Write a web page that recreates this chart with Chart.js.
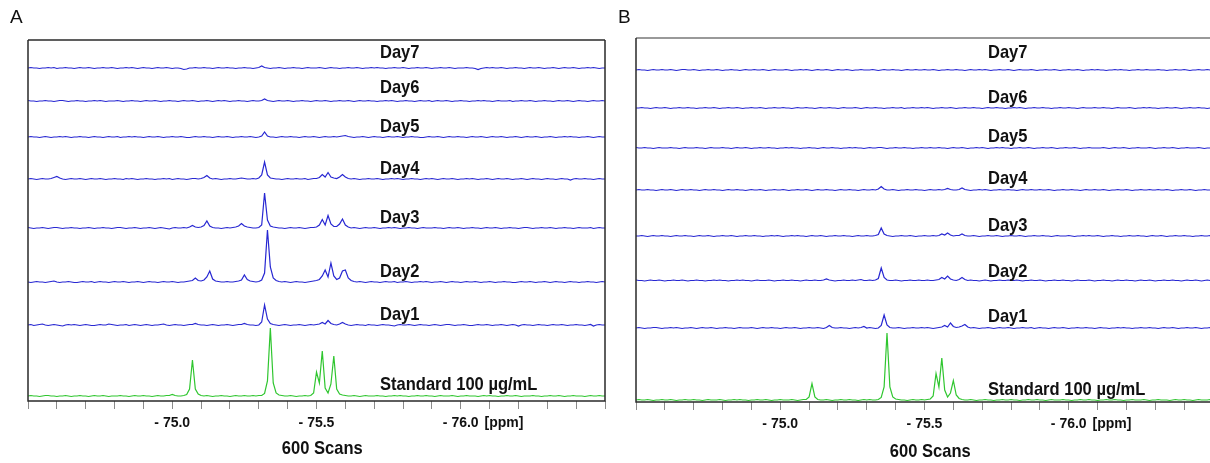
<!DOCTYPE html>
<html>
<head>
<meta charset="utf-8">
<script src="https://cdn.jsdelivr.net/npm/chart.js@4.4.0/dist/chart.umd.min.js"></script>
<style>
  html, body { margin: 0; padding: 0; background: #fff; overflow: hidden; width: 1210px; height: 463px; }
  .panel { position: absolute; top: 0; height: 463px; width: 615px; }
  #panelA { left: 0; }
  #panelB { left: 608px; }
</style>
</head>
<body>
<div class="panel" id="panelA"><canvas id="chartA" width="615" height="463"></canvas></div>
<div class="panel" id="panelB"><canvas id="chartB" width="615" height="463"></canvas></div>
<script>
// spectra sampled every 0.01 ppm, starting at -74.50 ppm (201 points each)
const ppmStart = -74.5;
const ppmStep = 0.01;

const traceNames = ["Standard 100 µg/mL", "Day1", "Day2", "Day3", "Day4", "Day5", "Day6", "Day7"];

// intensities in half-pixel units, baseline = 0
const stdA = [
  0, 1, 0, 0,-1,   0, 1, 1, 0, 0,  -1, 0, 0, 1, 0,  -1, 0, 0, 1, 0,
  0,-1, 0, 1, 0,   0, 1, 0,-1, 0,   0, 0, 1, 0, 0,  -1, 0, 1, 0, 0,
  1, 0, 0,-1, 0,   1, 0, 0, 1, 1,   3, 1, 0, 0, 1,   3,14,72,14, 4,
  1, 0, 1, 0,-1,   0, 0, 1, 0, 0,  -1, 0, 1, 0, 0,   1, 0, 0, 1, 0,
  1, 1, 5,30,136, 26, 6, 2, 1, 0,   0, 1, 0,-1, 0,   0, 1, 0, 1, 6,
  48,26,90,16, 6, 24,80,14, 4, 2,   1, 0, 0, 1, 0,  -1, 0, 1, 0, 0,
  0, 1, 0, 0,-1,   0, 0, 1, 0, 1,   0, 0,-1, 0, 0,   1, 0, 0, 1, 0,
  0,-1, 0, 1, 0,   0, 0, 1, 0,-1,   0, 0, 1, 0, 0,   0,-1, 0, 1, 0,
  1, 0, 0,-1, 0,   0, 1, 0, 0, 1,   0,-1, 0, 0, 0,   1, 0, 0,-1, 0,
  0, 1, 0, 0, 1,   0,-1, 0, 0, 1,   0, 0, 0,-1, 0,   1, 0, 0, 1, 0,
  0
];
const day1A = [
  0, 1,-1, 0, 1,   2, 0,-1, 0, 1,   0,-1,-2, 0, 1,   0, 1, 0,-1, 0,
  1, 0,-1,-1, 0,   1, 0, 0, 2, 1,   0,-1, 0, 0, 1,  -1, 0, 1, 0,-1,
  0, 1, 0,-1, 0,   0, 1, 2, 0,-1,   0, 1, 0, 0,-1,   0, 1, 1, 3, 1,
  0, 0,-1, 0, 1,   0,-1, 0, 0, 1,   0,-1, 0, 1, 1,   3, 1, 0, 0,-1,
  0, 6,40,12, 3,   1, 0,-1, 0, 1,   0,-1, 0, 0, 1,   0,-1, 0, 1, 0,
  1, 2, 5, 2, 9,   3, 1, 0, 2, 5,   2, 0,-1, 0, 1,   0, 0,-1, 1, 0,
  0,-1, 0, 1, 0,   0,-1,-2, 0, 1,   0, 0, 1, 0,-1,   0, 1, 0, 0,-1,
  0, 1, 0,-1, 0,   1, 1, 0,-1, 0,   0, 1, 0,-1,-1,   0, 1, 0, 0, 1,
  0,-1, 0, 0, 1,   0,-1, 0, 1, 0,  -2, 0, 1, 0, 0,  -1, 0, 1, 0, 0,
  -1, 0, 1, 0, 0,  1, 0,-1, 0, 0,   1, 0, 0,-1, 0,   1,-2, 0, 1, 0,
  0
];
const day2A = [
  0,-1, 0, 1, 0,   0,-1, 0, 1, 2,   0,-1, 0, 0, 1,   0,-1,-1, 0, 1,
  0, 0, 1,-1, 0,   1, 0, 0,-1, 0,   1, 0, 0, 1, 0,  -1, 0, 0, 1, 0,
  -1, 0, 1, 0, 0, -1, 0, 1, 0, 0,   1, 0,-1, 0, 0,   1, 2, 3, 8, 3,
  2, 4,10,22, 6,   2, 1, 0, 0, 1,   0, 0, 1, 2, 4,  14, 5, 2, 1, 0,
  1, 4,18,104,30,  8, 3, 1, 0, 1,   0,-1, 0, 1, 0,   0,-1, 0, 1, 2,
  3, 5,12,24,10,  38,12, 5, 8,22,  24, 8, 3, 1, 0,   1, 0,-1, 0, 1,
  0, 0,-1, 0, 1,   0, 0, 1,-1, 0,   0, 1, 0,-1, 0,   0, 1, 0, 1, 0,
  -1, 0, 0, 1, 0, -1, 0, 1, 0, 0,  -1, 0, 1, 0, 0,   1, 0,-1, 0, 0,
  1, 0,-1, 0, 0,   1, 0, 0,-1,-1,   0, 1, 0, 0, 1,   0,-1, 0, 0, 1,
  0,-1, 0, 1, 0,   0,-1, 0, 1, 0,   0,-1, 0, 0, 1,   0, 0,-1, 0, 1,
  0
];
const day3A = [
  1, 0,-1, 0, 0,   1, 0,-1, 0, 1,   1, 0,-1, 0, 0,   1, 0, 0,-1, 0,
  0, 1, 0,-1, 0,   0, 1, 0, 0,-1,   0, 1, 1, 0,-1,   0, 0, 1, 0,-1,
  0, 0, 1, 0,-1,   0, 1, 0,-1,-2,   0, 1, 0, 0, 1,   0, 2, 5, 2, 1,
  2, 5,14, 4, 1,   0, 0,-1, 0, 1,   0, 1, 2, 4, 9,   4, 2, 1, 0, 0,
  1, 6,70,16, 4,   2, 1, 0, 0,-1,   0, 1, 0, 0, 1,   0,-1, 0, 1, 1,
  2, 6,17, 6,25,   8, 3, 3, 8,18,   6, 2, 0, 1, 0,  -1, 0, 1, 0, 0,
  1, 0,-1, 0, 0,   1, 0, 1, 0,-1,   0, 0, 1, 0, 0,  -1, 0, 1, 0, 0,
  0, 1, 0, 0,-1,   0, 1, 0, 0, 1,   0,-1, 0, 0, 1,   0, 0,-1, 0, 1,
  0, 0, 1, 0,-1,   0, 0, 1, 0, 0,  -1, 0, 1, 1, 0,  -1, 0, 0, 1, 0,
  0, 1, 0,-1, 0,   0, 1, 0, 0,-1,   0, 1, 0, 0, 0,   1,-1, 0, 1, 0,
  0
];
const day4A = [
  0, 1, 0,-1, 0,   1, 0, 0, 1, 3,   5, 2, 0,-1, 0,   1, 0, 0, 1, 0,
  -1, 0, 1, 0, 0,  1, 0,-1, 0, 0,   1, 0, 0,-1, 1,   0, 1, 0,-1, 0,
  0, 1, 0, 0,-1,   0, 0, 1, 0, 1,  -1, 0, 1, 0, 0,  -1, 0, 1, 1, 0,
  1, 3, 7, 2, 0,   1, 0,-1, 0, 0,   1, 0, 0, 1, 2,   1, 0, 0, 1, 0,
  2, 8,34, 8, 2,   1, 0, 0,-1, 0,   1, 0, 0, 1, 0,   0, 1,-1, 0, 1,
  1, 3, 9, 4,13,   4, 2, 1, 4, 9,   4, 1, 0, 1, 0,  -1, 0, 0, 1, 0,
  0, 1, 0,-1, 0,   0, 1, 0, 1, 0,  -1, 0, 0, 1, 0,   0,-1, 0, 1, 0,
  1, 0,-1, 0, 1,   0, 0, 1, 0,-1,   0, 0, 1, 0, 1,   0,-1, 0, 0, 1,
  0,-1, 0, 1, 0,   0, 1, 0,-1, 0,   0, 1, 0,-1, 0,   1, 0, 0,-1, 0,
  1, 0, 0,-1, 0,   1, 0, 0,-2, 0,   1, 0, 0, 1, 0,   0,-1, 0, 1, 0,
  0
];
const day5A = [
  0, 1, 0, 0,-1,   0, 1, 0,-1, 0,   0, 1, 0, 1, 0,  -1, 0, 0, 1, 0,
  0,-1, 0, 1, 0,   0,-1, 0, 1, 0,   0, 1,-1, 0, 0,   1, 0, 1, 0, 0,
  -1, 0, 1, 0, 0,  1, 0,-1, 0, 0,   1, 0, 0, 1, 0,  -1,-1, 0, 1, 0,
  0, 1, 0, 0,-1,   0, 1, 0, 0, 1,   0,-1, 0, 0, 1,   0, 0, 1, 0,-1,
  0, 2,10, 2, 0,   0,-1, 0, 1, 0,   0, 1, 0, 0,-1,   0, 1, 0, 0, 1,
  0,-1, 0, 1, 0,   0, 1, 0, 1, 2,   3, 1, 0,-1, 0,   0, 1, 0,-1, 0,
  1, 0, 0,-1, 0,   1, 0, 0, 1, 0,  -1, 0, 0, 1, 0,   0,-1,-1, 0, 1,
  0, 0, 1, 0,-1,   0, 1, 0, 0, 1,   0, 0,-1, 0, 1,   0, 0, 1, 0,-1,
  0, 1, 0, 0, 1,   0,-1, 0, 0, 1,   0,-1, 0, 1, 0,   0, 1, 0,-1, 0,
  0, 1, 0,-1, 0,   0, 1, 0, 1, 0,   0,-1, 0, 0, 1,   0,-1, 0, 1, 0,
  0
];
const day6A = [
  1, 0, 0,-1, 0,   0, 1, 0, 0,-1,   0, 1, 1, 0,-1,   0, 0, 1, 0, 0,
  -1, 0, 0, 1, 0,  1, 0,-1, 0, 0,   0, 1, 0,-1, 0,   0, 1, 0, 0,-1,
  0, 1, 0, 0, 1,   0,-1, 0, 0, 1,   0, 0,-1, 0, 1,   0, 0, 1, 0,-1,
  0, 0, 1, 0,-1,   0, 1, 0, 1, 0,  -1, 0, 0, 1, 0,   0,-1, 0, 1, 0,
  0, 1, 4, 1, 0,  -1, 0, 1, 0, 0,   1, 0,-1, 0, 0,   1, 0, 0,-1, 0,
  1, 0, 0, 1, 0,  -1, 0, 0, 1, 0,   0, 1, 0,-1, 0,   1, 0, 0, 1, 0,
  0,-1, 0, 0, 1,   0, 1, 0,-1, 0,   0, 1, 0, 0,-1,   0, 1, 0, 0, 1,
  -1, 0, 1, 0, 0,  1, 0,-1, 0, 0,   1, 0, 0,-1, 0,   0, 1, 0, 1, 0,
  0,-1, 0, 1, 0,   0, 0, 1,-1, 0,   0, 1, 0, 0, 1,   0,-1, 0, 0, 1,
  0, 0,-1, 0, 1,   0, 0, 1, 0,-1,   0, 1, 0, 0,-1,   0, 1, 0, 0, 1,
  0
];
const day7A = [
  0, 1, 0, 0,-1,   0, 0, 1, 0, 1,  -1, 0, 0, 1, 0,   0,-1, 0, 1, 0,
  0, 1, 0,-1, 0,   0, 1, 0, 0, 1,   0,-1, 0, 0, 1,   0, 1, 0,-1, 0,
  1, 0, 0,-1, 0,   1, 0, 0, 1, 0,  -1, 0, 0,-1,-3,  -2, 0, 0, 1, 0,
  0, 1, 0, 0,-1,   0, 1, 0, 0, 1,   0, 0,-1, 0, 0,   1, 0, 0,-1, 0,
  1, 4, 1, 0,-1,   0, 0, 1, 0,-1,   0, 0, 1, 0, 0,  -1, 0, 1, 0, 0,
  0, 1, 0,-1, 0,   1, 0, 0,-1, 0,   0, 1, 0, 0, 1,   0,-1, 0, 0, 1,
  0, 1, 0, 0,-1,   0, 0, 1, 0, 0,   1, 0,-1, 0, 0,   1, 0, 0, 1, 0,
  -1, 0, 0, 1, 0,  0, 1, 0,-1, 0,   0, 0, 1, 0, 0,  -1,-3,-1, 0, 1,
  0, 1, 0, 0, 1,   0,-1, 0, 0, 1,   0, 0,-1, 0, 1,   0, 0, 1, 0,-1,
  0, 0, 1, 0,-1,   0, 1, 0, 0, 1,   0,-1, 0, 0, 1,   0, 1, 0,-1, 0,
  0
];

const stdB = [
  0, 1, 0, 0, 1,   0,-1, 0, 0, 1,   0, 0, 1, 0,-1,   0, 0, 1, 0, 0,
  1, 0, 0,-1, 0,   1, 0, 0, 0, 1,   0,-1, 0, 0, 1,   0, 1, 0, 0,-1,
  0, 0, 1, 0, 0,   1, 0,-1, 0, 0,   1, 0, 0, 0, 1,   0,-1, 0, 1, 1,
  6,33, 6, 1, 0,   0, 1, 0,-1, 0,   0, 1, 0, 0, 1,   0, 0,-1, 0, 1,
  0, 1, 0, 0, 1,   5,26,134,26, 6,  2, 1, 0, 0,-1,   0, 1, 0, 0, 1,
  0, 1, 2, 8,53,  26,84,20, 6,14,  39,10, 3, 1, 0,   0, 1, 0,-1, 0,
  0, 1, 0, 0,-1,   0, 0, 1, 0, 0,   1, 0, 0,-1, 0,   0, 1, 0, 0, 1,
  0, 0,-1, 0, 1,   0, 0, 0, 1, 0,   0,-1, 0, 0, 1,   0, 0, 1, 0, 0,
  -1, 0, 0, 1, 0,  0, 1, 0, 0,-1,   0, 0, 1, 0, 0,   0, 1, 0,-1, 0,
  0, 1, 0, 0, 0,  -1, 0, 1, 0, 0,   1, 0, 0,-1, 0,   1, 0, 0, 0, 1,
  0
];
const day1B = [
  0, 1, 0,-1, 0,   0, 1, 1, 0,-1,   0, 0, 1, 0, 1,   0,-1, 0, 0, 1,
  0,-1, 0, 1, 0,   0, 1, 0,-1, 0,   0, 1, 0, 0,-1,   0, 1, 0, 0, 0,
  1, 0,-1, 0, 1,   0, 0, 1, 0, 0,  -1, 0, 1, 0, 0,   1, 0,-1, 0, 0,
  1, 0, 0, 1, 0,  -1, 1, 5, 1, 0,   0, 1, 0, 0,-1,   0, 1, 0, 1, 3,
  0, 1, 0,-1, 0,   5,26, 6, 1, 0,   0, 1, 0,-1, 0,   0, 1, 0, 0, 1,
  0, 1, 0,-1, 0,   1, 2, 5, 2,10,   3, 1, 2, 4, 7,   2, 0, 1, 0,-1,
  0, 0, 1, 0,-1,   0, 1, 0, 0, 1,   0,-1, 0, 0, 1,   0, 0, 1,-1, 0,
  1, 0, 0,-1, 0,   1, 0, 0, 1, 0,  -1, 0, 0, 1, 0,   0, 1, 0, 0,-1,
  0, 1, 0, 0,-1,   0, 0, 1, 0, 1,   0, 0,-1, 0, 0,   1, 0, 0, 1, 0,
  0,-1, 0, 1, 0,   0, 1, 0,-1, 0,   0, 1, 0, 0, 1,   0,-1, 0, 0, 1,
  0
];
const day2B = [
  1, 0, 0,-1, 0,   1, 0, 0, 1, 0,  -1, 0, 0, 1, 0,   0, 1, 0,-1, 0,
  0, 1, 0, 0,-1,   0, 0, 1, 0, 1,   0, 0,-1, 0, 0,   1, 0, 1, 0, 0,
  -1, 0, 1, 0, 0,  0, 1, 0,-1, 0,   0, 1, 0, 0, 1,   0, 0,-1, 0, 1,
  0, 0, 1, 0, 0,   1, 3, 1, 0,-1,   0, 0, 1, 0, 0,   1, 0, 1, 2, 0,
  0, 1, 0, 1, 4,  25, 6, 1, 0, 0,   1, 0,-1, 0, 0,   1, 0, 0, 1, 0,
  0, 1, 0, 0, 1,   2, 6, 3, 9, 3,   1, 0, 2, 6, 2,   0, 1, 0, 0,-1,
  0, 1, 0,-1, 0,   0, 1, 0, 0, 1,   0, 0, 1, 0,-1,   0, 0, 1, 0, 0,
  1, 0,-1, 0, 0,   1, 0, 0, 1, 0,   0,-1, 0, 1, 0,   0, 0, 1, 0,-1,
  0, 0, 1, 0, 0,  -1, 0, 1, 0, 0,   1, 0, 0,-1, 0,   1, 0, 0, 1, 0,
  -1, 0, 0, 1, 0,  0, 1, 0, 0,-1,   0, 1, 0, 0, 1,   0,-1, 0, 1, 0,
  0
];
const day3B = [
  0, 0, 1, 0,-1,   0, 1, 0, 0, 1,   0, 0,-1, 0, 1,   0, 0, 1, 0, 0,
  -1, 0, 1, 0, 0,  1, 0,-1, 0, 0,   1, 0, 0, 1, 0,  -1, 0, 0, 1, 0,
  0, 1, 0, 0,-1,   0, 0, 1, 0, 1,   0,-1, 0, 0, 1,   0, 1, 0, 0,-1,
  0, 1, 0, 0, 1,   0,-1, 0, 0, 1,   0, 0, 1, 0, 0,  -1, 0, 1, 0, 0,
  1, 0, 0, 1, 3,  16, 4, 1, 0,-1,   0, 0, 1, 0, 0,   1, 0,-1, 0, 0,
  1, 0, 0, 1, 0,   1, 4, 2, 6, 2,   0, 1, 1, 4, 1,   0, 0, 1, 0,-1,
  0, 0, 1, 0, 0,   1, 0,-1, 0, 0,   1, 0, 0, 1, 0,  -1, 0, 0, 1, 0,
  0, 1, 0, 0,-1,   0, 1, 0, 0, 0,   1, 0,-1, 0, 0,   1, 0, 1, 0, 0,
  1, 0,-1, 0, 0,   1, 0, 0,-1, 0,   0, 1, 0, 0, 1,   0, 0,-1, 0, 1,
  0, 0, 1, 0,-1,   0, 0, 1, 0, 0,   1, 0, 0,-1, 0,   0, 1, 0, 0, 1,
  0
];
const day4B = [
  0, 1, 0, 0, 1,   0, 0,-1, 0, 1,   0, 0, 1, 0,-1,   0, 1, 0, 0, 1,
  0, 0,-1, 0, 1,   0, 0, 1, 0, 0,  -1, 0, 1, 0, 0,   1, 0, 0,-1, 0,
  1, 0, 0, 1, 0,  -1, 0, 0, 1, 0,   0, 1, 0,-1, 0,   0, 1, 0, 0, 1,
  0,-1, 0, 1, 0,   0, 1, 0, 0,-1,   0, 1, 0, 0, 1,   0, 0,-1, 0, 1,
  0, 0, 1, 0, 2,   7, 2, 0, 0, 1,   0,-1, 0, 0, 1,   0, 0, 1, 0, 0,
  -1, 0, 1, 0, 0,  1, 0, 1, 3, 1,   0, 0, 1, 4, 1,   0,-1, 0, 0, 1,
  0, 1, 0,-1, 0,   0, 1, 0, 0, 1,   0, 0,-1, 0, 1,   0, 0, 1, 0, 0,
  1, 0, 0, 1, 0,  -1, 0, 0, 1, 0,   0, 1, 0, 0,-1,   0, 1, 0, 0, 1,
  0, 0, 1, 0,-1,   0, 0, 1, 0, 0,   1, 0,-1, 0, 0,   1, 0, 0, 1, 0,
  0, 1, 0, 0, 1,   0,-1, 0, 0, 1,   0, 0, 1, 0,-1,   0, 0, 1, 0, 0,
  0
];
const day5B = [
  1, 0, 0, 1, 0,   0,-1, 0, 1, 0,   0, 0, 1, 0, 0,  -1, 0, 1, 0, 0,
  0, 1, 0, 0,-1,   0, 1, 0, 0, 0,   1, 0, 0,-1, 0,   1, 0, 0, 1, 0,
  -1, 0, 0, 1, 0,  0, 1, 0, 0,-1,   0, 0, 1, 0, 1,   0, 0,-1, 0, 0,
  1, 0, 0,-1, 0,   1, 0, 0, 1, 0,   0,-1, 0, 0, 1,   0, 1, 0, 0,-1,
  0, 1, 0, 0, 1,   1, 0,-1, 0, 0,   1, 0, 0, 1, 0,   0,-1, 0, 0, 1,
  0, 0, 1, 0, 0,   1, 0, 0,-1, 0,   1, 0, 0, 1, 0,  -1, 0, 0, 1, 0,
  1, 0,-1, 0, 0,   1, 0, 1, 0, 0,  -1, 0, 0, 1, 0,   0, 1, 0,-1, 0,
  0, 1, 0, 0, 1,   0,-1, 0, 0, 1,   0, 0, 1, 0,-1,   0, 0, 1, 0, 0,
  0, 0, 1, 0,-1,   0, 1, 0, 0, 1,   0,-1, 0, 0, 1,   0, 0, 0, 1, 0,
  -1, 0, 0, 1, 0,  0, 1, 0,-1, 0,   0, 1, 0, 0, 0,   1, 0,-1, 0, 0,
  0
];
const day6B = [
  0, 0, 1, 0, 0,  -1, 0, 1, 0, 0,   1, 0,-1, 0, 0,   1, 0, 0, 1, 0,
  0,-1, 0, 0, 1,   0, 0, 1, 0,-1,   0, 0, 1, 0, 0,   1, 0,-1, 0, 0,
  1, 0, 0, 1, 0,  -1, 0, 0, 1, 0,   0, 1, 0, 0,-1,   0, 1, 0, 0, 1,
  0, 0,-1, 0, 1,   0, 0, 1, 0, 0,  -1, 0, 1, 0, 0,   0, 1, 0,-1, 0,
  1, 0, 0, 1, 0,   0,-1, 0, 0, 1,   0, 0, 1,-1, 0,   0, 1, 0, 0, 1,
  0, 1, 0,-1, 0,   0, 1, 0, 0, 1,   0,-1, 0, 0, 1,   0, 0, 1, 0, 0,
  -1, 0, 1, 0, 0,  1, 0, 0,-1, 0,   0, 1, 0, 1, 0,  -1, 0, 0, 1, 0,
  0, 1, 0, 0,-1,   0, 0, 1, 0, 0,   1, 0, 0,-1, 0,   1, 0, 0, 0, 1,
  0, 0, 1, 0, 0,  -1, 0, 1, 0, 0,   0, 1, 0,-1, 0,   0, 1, 0, 1, 0,
  0,-1, 0, 0, 1,   0, 0, 1, 0,-1,   0, 0, 1, 0, 0,   1, 0, 0,-1, 0,
  0
];
const day7B = [
  0, 1, 0, 0,-1,   0, 1, 0, 0, 1,   0, 0, 1, 0,-1,   0, 1, 1, 0, 0,
  1, 0,-1, 0, 0,   1, 0, 0, 1, 0,  -1, 0, 0, 1, 0,   0,-1, 0, 1, 0,
  0, 1, 0, 0, 1,   0,-1, 0, 1, 0,   0, 0, 1, 0,-1,   0, 0, 1, 0, 1,
  0,-1, 0, 1, 0,   0, 1, 0,-1, 0,   1, 0, 0, 1, 0,  -1, 0, 0, 1, 0,
  0, 0, 1, 0,-1,   0, 1, 0, 0, 1,   0, 0,-1, 0, 1,   0, 0, 1, 0, 0,
  1, 0, 0, 1, 0,  -1, 0, 0, 1, 0,   0, 1, 0, 0,-1,   0, 1, 0, 0, 1,
  0, 1, 0,-1, 0,   0, 1, 0, 0, 1,   0,-1, 0, 1, 0,   0, 0, 1, 0,-1,
  0, 0, 1, 0, 0,   1, 0,-1, 0, 0,   1, 0, 0, 1, 0,  -1, 0, 0, 1, 0,
  1, 0, 0,-1, 0,   0, 1, 0, 1, 0,   0,-1, 0, 0, 1,   0, 0, 1, 0, 0,
  0, 1, 0, 0,-1,   0, 0, 1, 0, 0,   1, 0,-1, 0, 0,   1, 0, 0, 1, 0,
  0
];

// vertical stacking: baseline of each trace (same units, bottom of the frame = 0)
const offsetsA = [10, 152, 238, 346, 444, 528, 600, 666];
const offsetsB = [4, 148, 243, 332, 424, 508, 588, 664];

const seriesA = [stdA, day1A, day2A, day3A, day4A, day5A, day6A, day7A];
const seriesB = [stdB, day1B, day2B, day3B, day4B, day5B, day6B, day7B];

// how far (px) each trace name sits above its baseline
const liftA = [11, 10, 10, 10, 10, 10, 13, 15];
const liftB = [10, 11, 9, 10, 11, 11, 10, 17];

const BLUE = "#2727d2";
const GREEN = "#2fc62f";
const FONT = "'Liberation Sans', Arial, sans-serif";

function toPoints(values, offset) {
    return values.map((v, i) => ({ x: +(ppmStart - i * ppmStep).toFixed(2), y: offset + v }));
}

// narrow bold caption text
function narrowText(ctx, text, x, y, align) {
    ctx.save();
    ctx.translate(x, y);
    ctx.scale(0.87, 1);
    ctx.textAlign = align;
    ctx.fillText(text, 0, 0);
    ctx.restore();
}

// frame, trace names, unit and scan count
const panelText = {
    id: "panelText",
    afterDraw(chart, args, opts) {
        const { ctx, chartArea: a, scales: { x, y } } = chart;
        ctx.save();

        ctx.lineWidth = 1.5;
        ctx.strokeStyle = opts.topColor;
        ctx.beginPath();
        ctx.moveTo(a.left, a.top);
        ctx.lineTo(a.right, a.top);
        ctx.stroke();
        ctx.strokeStyle = "#2a2a2a";
        ctx.beginPath();
        ctx.moveTo(a.left, a.top);
        ctx.lineTo(a.left, a.bottom);
        ctx.lineTo(a.right, a.bottom);
        ctx.lineTo(a.right, a.top);
        ctx.stroke();

        ctx.fillStyle = "#111";
        ctx.font = "bold 19px " + FONT;
        ctx.textBaseline = "middle";
        const lx = x.getPixelForValue(-75.72);
        traceNames.forEach((name, k) => {
            narrowText(ctx, name, lx, y.getPixelForValue(opts.offsets[k]) - opts.lift[k], "left");
        });
        narrowText(ctx, "600 Scans", x.getPixelForValue(-75.52), opts.scansY, "center");

        ctx.textAlign = "center";
        ctx.font = "bold 14px " + FONT;
        ctx.fillText("[ppm]", x.getPixelForValue(-76.15), a.bottom + 22);

        ctx.textAlign = "left";
        ctx.font = "19px " + FONT;
        ctx.fillText(opts.letter, 10, 18);
        ctx.restore();
    }
};

function makePanel(canvasId, letter, series, offsets, lift, top, bottom, scansY, topColor) {
    const yMax = (bottom - top) * 2;
    new Chart(document.getElementById(canvasId), {
        type: "line",
        data: {
            datasets: series.map((vals, k) => ({
                data: toPoints(vals, offsets[k]),
                borderColor: k === 0 ? GREEN : BLUE,
                borderWidth: 1.2,
                pointRadius: 0,
                tension: 0
            }))
        },
        options: {
            responsive: false,
            animation: false,
            devicePixelRatio: 1,
            layout: { padding: { left: 28, top: top, right: 10, bottom: 0 } },
            plugins: {
                legend: { display: false },
                tooltip: { enabled: false },
                panelText: { letter, offsets, lift, scansY, topColor }
            },
            scales: {
                x: {
                    type: "linear",
                    reverse: true,
                    min: -76.5,
                    max: -74.5,
                    afterFit: s => { s.height = 463 - bottom; },
                    border: { display: false },
                    grid: { drawOnChartArea: false, drawTicks: true, tickLength: 8, color: "#8a8a8a", lineWidth: 1 },
                    ticks: {
                        stepSize: 0.1,
                        autoSkip: false,
                        maxRotation: 0,
                        padding: 6,
                        color: "#111",
                        font: { family: FONT, size: 14, weight: "bold" },
                        callback: v => {
                            const t = Math.round(v * 10);
                            return (t % 5 === 0 && t > -765 && t < -745) ? "- " + (Math.abs(t) / 10).toFixed(1) : "";
                        }
                    }
                },
                y: { display: false, min: 0, max: yMax }
            }
        },
        plugins: [panelText]
    });
}

makePanel("chartA", "A", seriesA, offsetsA, liftA, 40, 401, 449, "#2a2a2a");
makePanel("chartB", "B", seriesB, offsetsB, liftB, 38, 402, 452, "#777");
</script>
</body>
</html>
